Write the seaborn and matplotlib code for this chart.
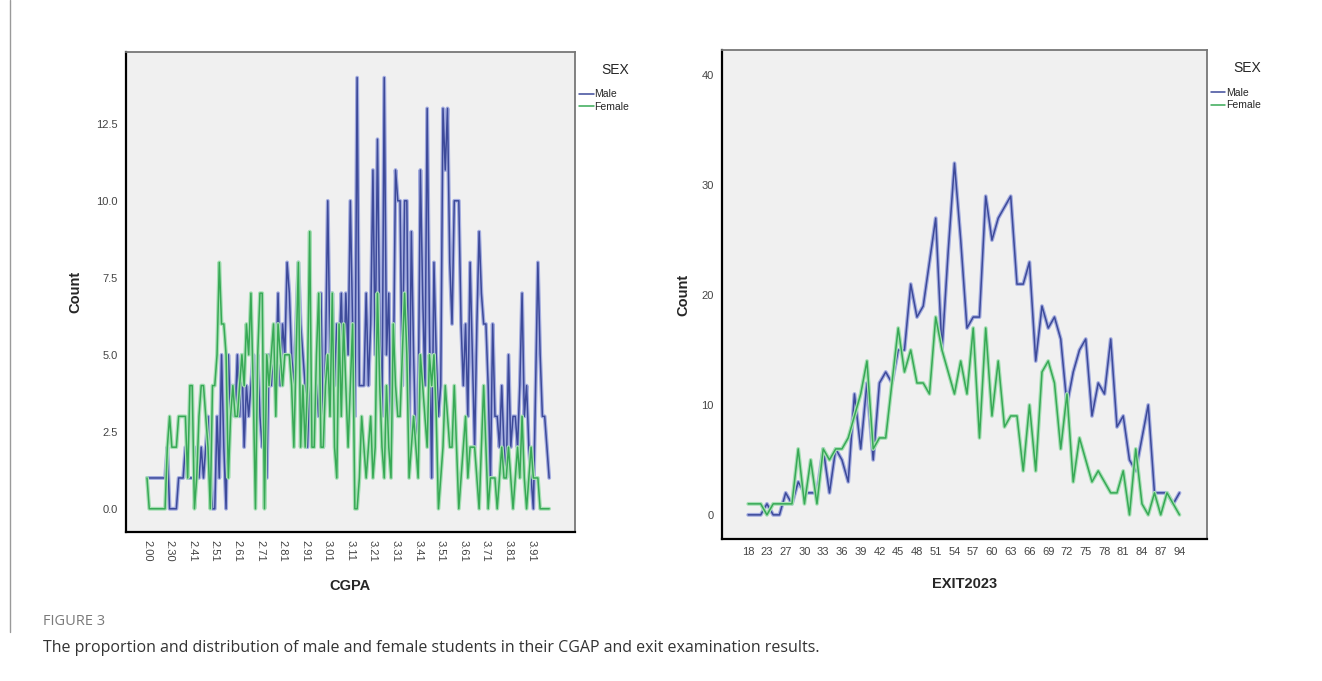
import numpy as np
import pandas as pd
import matplotlib
matplotlib.use('Agg')
import matplotlib.pyplot as plt
import matplotlib.patheffects as pe
import seaborn as sns
from matplotlib.lines import Line2D

sns.set_theme(style='white')
plt.rcParams['font.family'] = ['Liberation Sans', 'DejaVu Sans']

# CGPA categories (x axis of the left panel)
cgpa_low = ['2.00', '2.03', '2.07', '2.10', '2.13', '2.17', '2.20', '2.23', '2.25', '2.27',
            '2.30', '2.31', '2.32', '2.33', '2.35', '2.36', '2.37', '2.38', '2.39', '2.40']
cgpa_labels = cgpa_low + [f'{v / 100:.2f}' for v in range(241, 400)]

cgpa_male = [1, 1, 1, 1, 1, 1, 1, 1, 1, 2,
             0, 0, 0, 0, 1, 1, 1, 2, 1, 1,
             1, 1, 2, 1, 2, 1, 2, 3, 1, 0,
             0, 3, 1, 5, 2, 0, 5, 3, 4, 3,
             5, 3, 5, 2, 4, 3, 4, 5, 2, 5,
             3, 2, 5, 1, 5, 4, 5, 4, 7, 4,
             6, 5, 8, 7, 5, 4, 6, 8, 6, 5,
             4, 2, 4, 3, 3, 4, 3, 7, 2, 5,
             10, 5, 7, 4, 6, 5, 7, 4, 7, 5,
             10, 6, 3, 14, 4, 4, 4, 7, 4, 6,
             11, 5, 12, 6, 3, 14, 5, 7, 2, 4,
             11, 10, 10, 4, 10, 10, 2, 9, 5, 2,
             3, 11, 7, 4, 13, 6, 1, 8, 5, 3,
             4, 13, 11, 13, 8, 6, 10, 10, 10, 6,
             4, 6, 3, 8, 5, 2, 6, 9, 7, 6,
             6, 4, 1, 6, 3, 3, 2, 4, 2, 1,
             5, 2, 3, 3, 2, 4, 7, 3, 4, 2,
             1, 0, 4, 8, 5, 3, 3, 2, 1]

cgpa_female = [1, 0, 0, 0, 0, 0, 0, 0, 0, 2,
               3, 2, 2, 2, 3, 3, 3, 3, 1, 4,
               4, 0, 1, 3, 4, 4, 3, 2, 0, 4,
               4, 5, 8, 6, 6, 5, 1, 3, 4, 3,
               3, 4, 5, 4, 6, 5, 7, 4, 0, 5,
               7, 7, 0, 5, 4, 5, 6, 3, 6, 5,
               4, 5, 5, 5, 4, 2, 5, 8, 2, 4,
               2, 4, 9, 2, 2, 5, 7, 2, 2, 4,
               5, 3, 7, 2, 1, 6, 3, 6, 4, 2,
               4, 6, 0, 0, 1, 3, 2, 1, 2, 3,
               1, 2, 7, 4, 2, 1, 4, 2, 1, 6,
               4, 3, 3, 5, 7, 5, 1, 2, 3, 2,
               1, 5, 4, 3, 2, 5, 4, 5, 3, 0,
               1, 2, 4, 3, 2, 2, 4, 2, 0, 1,
               2, 3, 1, 2, 2, 2, 1, 0, 2, 4,
               2, 0, 1, 1, 1, 0, 1, 2, 1, 1,
               2, 1, 0, 1, 2, 1, 3, 1, 0, 1,
               2, 1, 1, 1, 0, 0, 0, 0, 0]

# EXIT2023 categories (x axis of the right panel)
exit_labels = [str(v) for v in [18, 20, 22, 23, 24, 25, 27, 28, 29] + list(range(30, 88)) + [89, 91, 94]]

exit_male = [0, 0, 0, 1, 0, 0, 2, 1, 3, 2,
             2, 2, 6, 2, 6, 5, 3, 11, 6, 12,
             5, 12, 13, 12, 15, 15, 21, 18, 19, 23,
             27, 15, 24, 32, 25, 17, 18, 18, 29, 25,
             27, 28, 29, 21, 21, 23, 14, 19, 17, 18,
             16, 10, 13, 15, 16, 9, 12, 11, 16, 8,
             9, 5, 4, 7, 10, 2, 2, 2, 1, 2]

exit_female = [1, 1, 1, 0, 1, 1, 1, 1, 6, 1,
               5, 1, 6, 5, 6, 6, 7, 9, 11, 14,
               6, 7, 7, 12, 17, 13, 15, 12, 12, 11,
               18, 15, 13, 11, 14, 11, 17, 7, 17, 9,
               14, 8, 9, 9, 4, 10, 4, 13, 14, 12,
               6, 11, 3, 7, 5, 3, 4, 3, 2, 2,
               4, 0, 6, 1, 0, 2, 0, 2, 1, 0]

palette = {'Male': '#3d4a9a', 'Female': '#38a956'}
halo = {'Male': '#a3acdf', 'Female': '#a6dfb4'}


def make_long(labels, male, female):
    pos = np.arange(len(labels))
    return pd.DataFrame({
        'pos': np.concatenate([pos, pos]),
        'Count': male + female,
        'SEX': ['Male'] * len(male) + ['Female'] * len(female),
    })


def draw_panel(ax, df, labels, step, rot, xlim, ylim, yticks, yfmt, xlabel, xpad, ypad):
    ax.set_facecolor('#f0f0f0')
    sns.lineplot(data=df, x='pos', y='Count', hue='SEX', hue_order=['Male', 'Female'],
                 palette=palette, estimator=None, linewidth=1.1, ax=ax)
    for line, name in zip(ax.lines, ['Male', 'Female']):
        line.set_path_effects([pe.Stroke(linewidth=2.8, foreground=halo[name]), pe.Normal()])

    ticks = list(range(0, len(labels), step))
    ax.set_xticks(ticks)
    ax.set_xticklabels([labels[t] for t in ticks], rotation=rot)
    ax.set_yticks(yticks)
    ax.set_yticklabels([yfmt.format(v) for v in yticks])
    ax.set_xlim(*xlim)
    ax.set_ylim(*ylim)

    ax.tick_params(axis='both', direction='out', length=4, width=1, color='black',
                   labelsize=8, labelcolor='#444444', pad=2)
    for side in ['left', 'bottom']:
        ax.spines[side].set_color('black')
        ax.spines[side].set_linewidth(1.6)
    for side in ['top', 'right']:
        ax.spines[side].set_color('#777777')
        ax.spines[side].set_linewidth(1.3)

    ax.set_xlabel(xlabel, fontsize=10.5, fontweight='bold', labelpad=xpad)
    ax.set_ylabel('Count', fontsize=10.5, fontweight='bold', labelpad=ypad)

    handles, names = ax.get_legend_handles_labels()
    leg = ax.legend(handles, names, title='SEX', loc='upper left', bbox_to_anchor=(0.995, 0.99),
                    frameon=False, handlelength=1.4, handletextpad=0.1, fontsize=7.5,
                    title_fontsize=10, labelspacing=0.25, borderaxespad=0.2)
    leg._legend_box.align = 'right'
    leg._legend_box.sep = 9


fig = plt.figure(figsize=(13.22, 6.81), dpi=100)
ax1 = fig.add_axes([0.0953, 0.219, 0.3396, 0.705])
ax2 = fig.add_axes([0.5461, 0.2085, 0.3669, 0.718])

draw_panel(ax1, make_long(cgpa_labels, cgpa_male, cgpa_female), cgpa_labels, 10, -90,
           (-9.3, 189.4), (-0.75, 14.84), [0, 2.5, 5, 7.5, 10, 12.5], '{:.1f}', 'CGPA', 12, 10)
draw_panel(ax2, make_long(exit_labels, exit_male, exit_female), exit_labels, 3, 0,
           (-4.2, 73.4), (-2.2, 42.3), [0, 10, 20, 30, 40], '{:.0f}', 'EXIT2023', 14, 8)

# page frame and caption
fig.add_artist(Line2D([0.0076, 0.0076], [1.0, 0.072], transform=fig.transFigure,
                      color='#9a9a9a', linewidth=1))
fig.text(0.0325, 0.087, 'FIGURE 3', color='#7a7a7a', fontsize=10.5,
         family=['Open Sans', 'DejaVu Sans'], va='center')
fig.text(0.0325, 0.048, 'The proportion and distribution of male and female students in their CGAP and exit examination results.',
         color='#333333', fontsize=11.5, family=['Open Sans', 'DejaVu Sans'], va='center')

fig.savefig('out.png', dpi=100, facecolor='white')
